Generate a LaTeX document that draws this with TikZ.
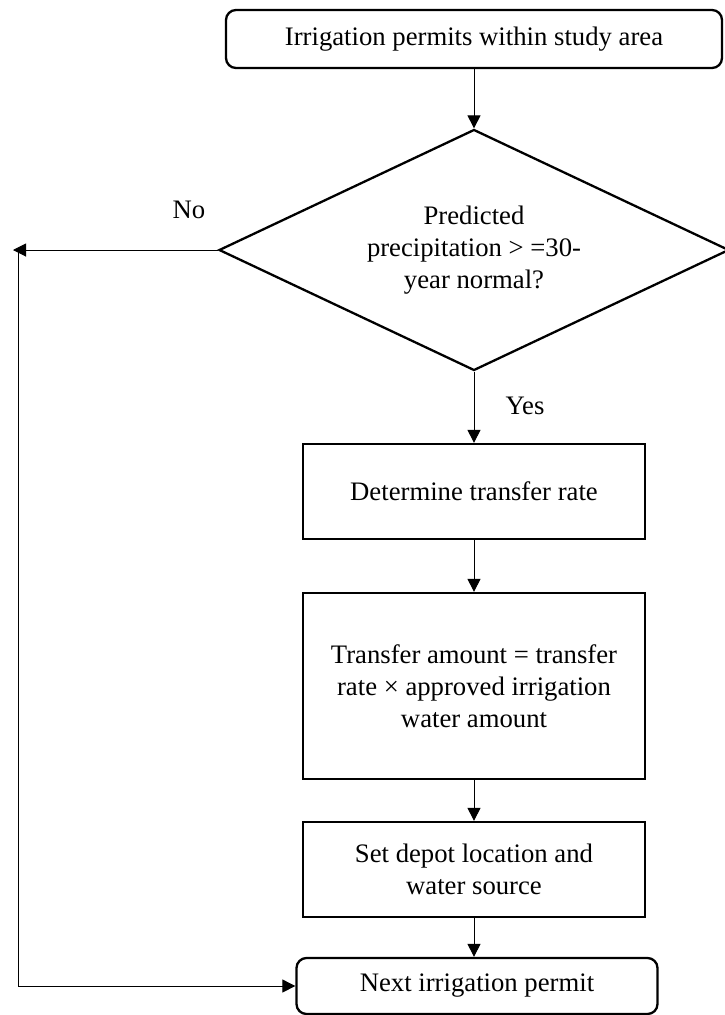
\documentclass[tikz,border=0pt]{standalone}
\usepackage{fontspec}
\setmainfont{Liberation Serif}
\usetikzlibrary{arrows.meta,shapes.geometric,calc}
\begin{document}
\begin{tikzpicture}[x=1pt,y=-1pt,
  every node/.style={font=\fontsize{26.7}{32}\selectfont},
  box/.style={draw,line width=2.3pt,inner sep=0pt,align=center},
  rbox/.style={box,rounded corners=10pt},
  conn/.style={line width=1pt,-{Triangle[length=13pt,width=13pt]}},
  lbl/.style={inner sep=0pt}]
\useasboundingbox (0,0) rectangle (725,1015);
\node[rbox,minimum width=496pt,minimum height=58pt] (start) at (474,39) {Irrigation permits within study area};
\node[draw,diamond,line width=2.3pt,minimum width=510pt,minimum height=241pt,aspect=2.12,inner sep=0pt,align=center] (dec) at (474,250) {Predicted\\precipitation > =30-\\year normal?};
\node[box,minimum width=342pt,minimum height=95pt] (rate) at (474,491.5) {Determine transfer rate};
\node[box,minimum width=342pt,minimum height=186pt] (amt) at (474,686) {Transfer amount = transfer\\rate × approved irrigation\\water amount};
\node[box,minimum width=342pt,minimum height=95pt] (depot) at (474,869.5) {Set depot location and\\water source};
\node[rbox,minimum width=361pt,minimum height=56pt] (next) at (477,986) {Next irrigation permit};
\node[lbl] (no) at (189,210) {No};
\node[lbl] (yes) at (525,406) {Yes};
\coordinate (tip) at (13,250);
\coordinate (corner) at (18,250);
\draw[conn] (start.south) -- (dec.north);
\draw[conn] (dec.south) -- (rate.north);
\draw[conn] (rate.south) -- (amt.north);
\draw[conn] (amt.south) -- (depot.north);
\draw[conn] (depot.south) -- (depot.south |- next.north);
\draw[conn] (dec.west) -- (tip);
\draw[conn] (corner) -- (corner |- next.west) -- (next.west);
\end{tikzpicture}
\end{document}
